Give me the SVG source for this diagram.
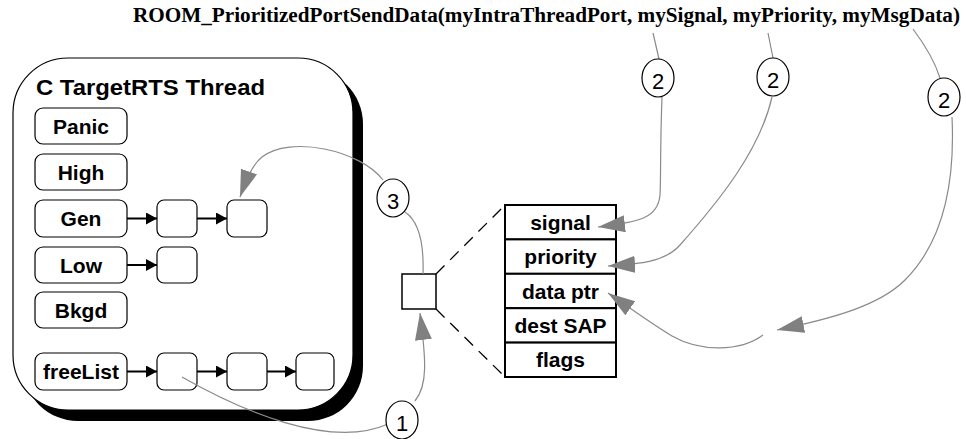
<svg xmlns="http://www.w3.org/2000/svg" width="966" height="439" viewBox="0 0 966 439">
  <style>
    .lbl { font-family: "Liberation Sans", Arial, sans-serif; font-weight: bold; font-size: 21px; fill: #000; text-anchor: middle; }
    .num { font-family: "Liberation Sans", Arial, sans-serif; font-size: 22px; fill: #000; text-anchor: middle; }
    .box { fill: #fff; stroke: #000; stroke-width: 1.2; }
    .cell { fill: #fff; stroke: #000; stroke-width: 2; }
    .link { fill: none; stroke: #000; stroke-width: 2; }
    .flow { fill: none; stroke: #8a8a8a; stroke-width: 1.2; }
    .dash { fill: none; stroke: #000; stroke-width: 1.3; stroke-dasharray: 12 8; }
    .tag { fill: #fff; stroke: #000; stroke-width: 1.2; }
  </style>
  <defs>
    <marker id="blk" markerUnits="userSpaceOnUse" viewBox="0 0 11 12" refX="11" refY="6" markerWidth="11" markerHeight="12" orient="auto">
      <path d="M0,0 L11,6 L0,12 z" fill="#000"/>
    </marker>
    <marker id="gry" markerUnits="userSpaceOnUse" viewBox="0 0 27 17" refX="27" refY="8.5" markerWidth="27" markerHeight="17" orient="auto">
      <path d="M0,0 L27,8.5 L0,17 z" fill="#808080"/>
    </marker>
  </defs>

  <rect width="966" height="439" fill="#fff"/>

  <!-- call signature -->
  <text id="call" x="133" y="22" textLength="827" lengthAdjust="spacingAndGlyphs" font-family="'Liberation Serif', 'Times New Roman', serif" font-weight="bold" font-size="20">ROOM_PrioritizedPortSendData(myIntraThreadPort, mySignal, myPriority, myMsgData)</text>

  <!-- thread container with drop shadow -->
  <g id="thread">
    <rect x="23" y="69" width="340" height="352" rx="55" ry="55" fill="#000"/>
    <rect x="13" y="58" width="340" height="352" rx="55" ry="55" fill="#fff" stroke="#000" stroke-width="1.2"/>
    <text x="36" y="95" textLength="229" lengthAdjust="spacingAndGlyphs" font-family="'Liberation Sans', Arial, sans-serif" font-weight="bold" font-size="22">C TargetRTS Thread</text>
  </g>

  <!-- priority queues -->
  <g id="q-panic"><rect class="box" x="35" y="108" width="92" height="36" rx="8"/><text class="lbl" x="81" y="133.5">Panic</text></g>
  <g id="q-high"><rect class="box" x="35" y="154" width="92" height="36" rx="8"/><text class="lbl" x="81" y="179.5">High</text></g>
  <g id="q-gen"><rect class="box" x="35" y="200" width="92" height="37" rx="8"/><text class="lbl" x="81" y="226">Gen</text></g>
  <g id="q-low"><rect class="box" x="35" y="247" width="92" height="36" rx="8"/><text class="lbl" x="81" y="272.5">Low</text></g>
  <g id="q-bkgd"><rect class="box" x="35" y="292" width="92" height="36" rx="8"/><text class="lbl" x="81" y="317.5">Bkgd</text></g>
  <g id="q-free"><rect class="box" x="35" y="353" width="92" height="37" rx="8"/><text class="lbl" x="81" y="379">freeList</text></g>

  <!-- queued message slots -->
  <g id="gen-m1"><rect class="box" x="157" y="200" width="40" height="37" rx="7"/></g>
  <g id="gen-m2"><rect class="box" x="227" y="200" width="40" height="37" rx="7"/></g>
  <g id="low-m1"><rect class="box" x="157" y="247" width="40" height="36" rx="7"/></g>
  <g id="free-m1"><rect class="box" x="157" y="353" width="40" height="37" rx="7"/></g>
  <g id="free-m2"><rect class="box" x="227" y="353" width="40" height="37" rx="7"/></g>
  <g id="free-m3"><rect class="box" x="296" y="353" width="38" height="37" rx="7"/></g>

  <!-- message being sent -->
  <g id="msg"><rect x="402" y="274" width="34" height="35" fill="#fff" stroke="#000" stroke-width="1.5"/></g>

  <!-- message fields -->
  <g id="fields">
    <rect class="cell" x="505" y="205" width="111" height="34.4"/>
    <rect class="cell" x="505" y="239.4" width="111" height="34.4"/>
    <rect class="cell" x="505" y="273.8" width="111" height="34.4"/>
    <rect class="cell" x="505" y="308.2" width="111" height="34.4"/>
    <rect class="cell" x="505" y="342.6" width="111" height="34.4"/>
    <text class="lbl" x="560.5" y="229.7">signal</text>
    <text class="lbl" x="560.5" y="264.1">priority</text>
    <text class="lbl" x="560.5" y="298.5">data ptr</text>
    <text class="lbl" x="560.5" y="332.9">dest SAP</text>
    <text class="lbl" x="560.5" y="367.3">flags</text>
  </g>

  <!-- connectors -->
  <g id="connectors">
    <!-- queue links -->
    <line class="link" x1="127" y1="218.5" x2="157" y2="218.5" marker-end="url(#blk)"/>
    <line class="link" x1="197" y1="218.5" x2="227" y2="218.5" marker-end="url(#blk)"/>
    <line class="link" x1="127" y1="265" x2="157" y2="265" marker-end="url(#blk)"/>
    <line class="link" x1="127" y1="371.5" x2="157" y2="371.5" marker-end="url(#blk)"/>
    <line class="link" x1="197" y1="371.5" x2="227" y2="371.5" marker-end="url(#blk)"/>
    <line class="link" x1="267" y1="371.5" x2="296" y2="371.5" marker-end="url(#blk)"/>

    <!-- zoom-out of the message -->
    <path class="dash" d="M436,274 L505,205"/>
    <path class="dash" d="M436,309 L505,377"/>

    <!-- step 1: take a free message -->
    <path class="flow" d="M182,377 C240,410 330,450 388,424"/>
    <path class="flow" d="M415,401 C428,385 426,360 420,313" marker-end="url(#gry)"/>

    <!-- step 3: enqueue on Gen -->
    <path class="flow" d="M423,274 C424,245 420,222 405,212"/>
    <path class="flow" d="M383,180 C360,150 290,135 262,157 C252,165 246,180 240,197" marker-end="url(#gry)"/>

    <!-- step 2: fill in fields -->
    <path class="flow" d="M653,33 L659,59"/>
    <path class="flow" d="M662,97 C660,150 661,180 660,195 C658,218 640,222 598,227" marker-end="url(#gry)"/>
    <path class="flow" d="M768,33 L773,58"/>
    <path class="flow" d="M772,97 C760,150 720,200 680,245 C665,262 640,264 608,266" marker-end="url(#gry)"/>
    <path class="flow" d="M913,29 C925,45 935,62 940,78"/>
    <path class="flow" d="M952,117 C955,180 945,240 905,280 C880,305 835,318 777,330" marker-end="url(#gry)"/>
    <path class="flow" d="M763,335 C740,352 700,352 672,336 C655,326 640,315 608,293" marker-end="url(#gry)"/>
  </g>

  <!-- step tags -->
  <g id="tag-1"><ellipse class="tag" cx="402" cy="420" rx="16" ry="19"/><text class="num" x="402" y="431">1</text></g>
  <g id="tag-3"><ellipse class="tag" cx="393" cy="198" rx="16" ry="19"/><text class="num" x="393" y="209">3</text></g>
  <g id="tag-2a"><ellipse class="tag" cx="658" cy="78" rx="16" ry="19"/><text class="num" x="658" y="89">2</text></g>
  <g id="tag-2b"><ellipse class="tag" cx="773" cy="77" rx="16" ry="19"/><text class="num" x="773" y="88">2</text></g>
  <g id="tag-2c"><ellipse class="tag" cx="944" cy="97" rx="16" ry="19"/><text class="num" x="944" y="108">2</text></g>
</svg>
